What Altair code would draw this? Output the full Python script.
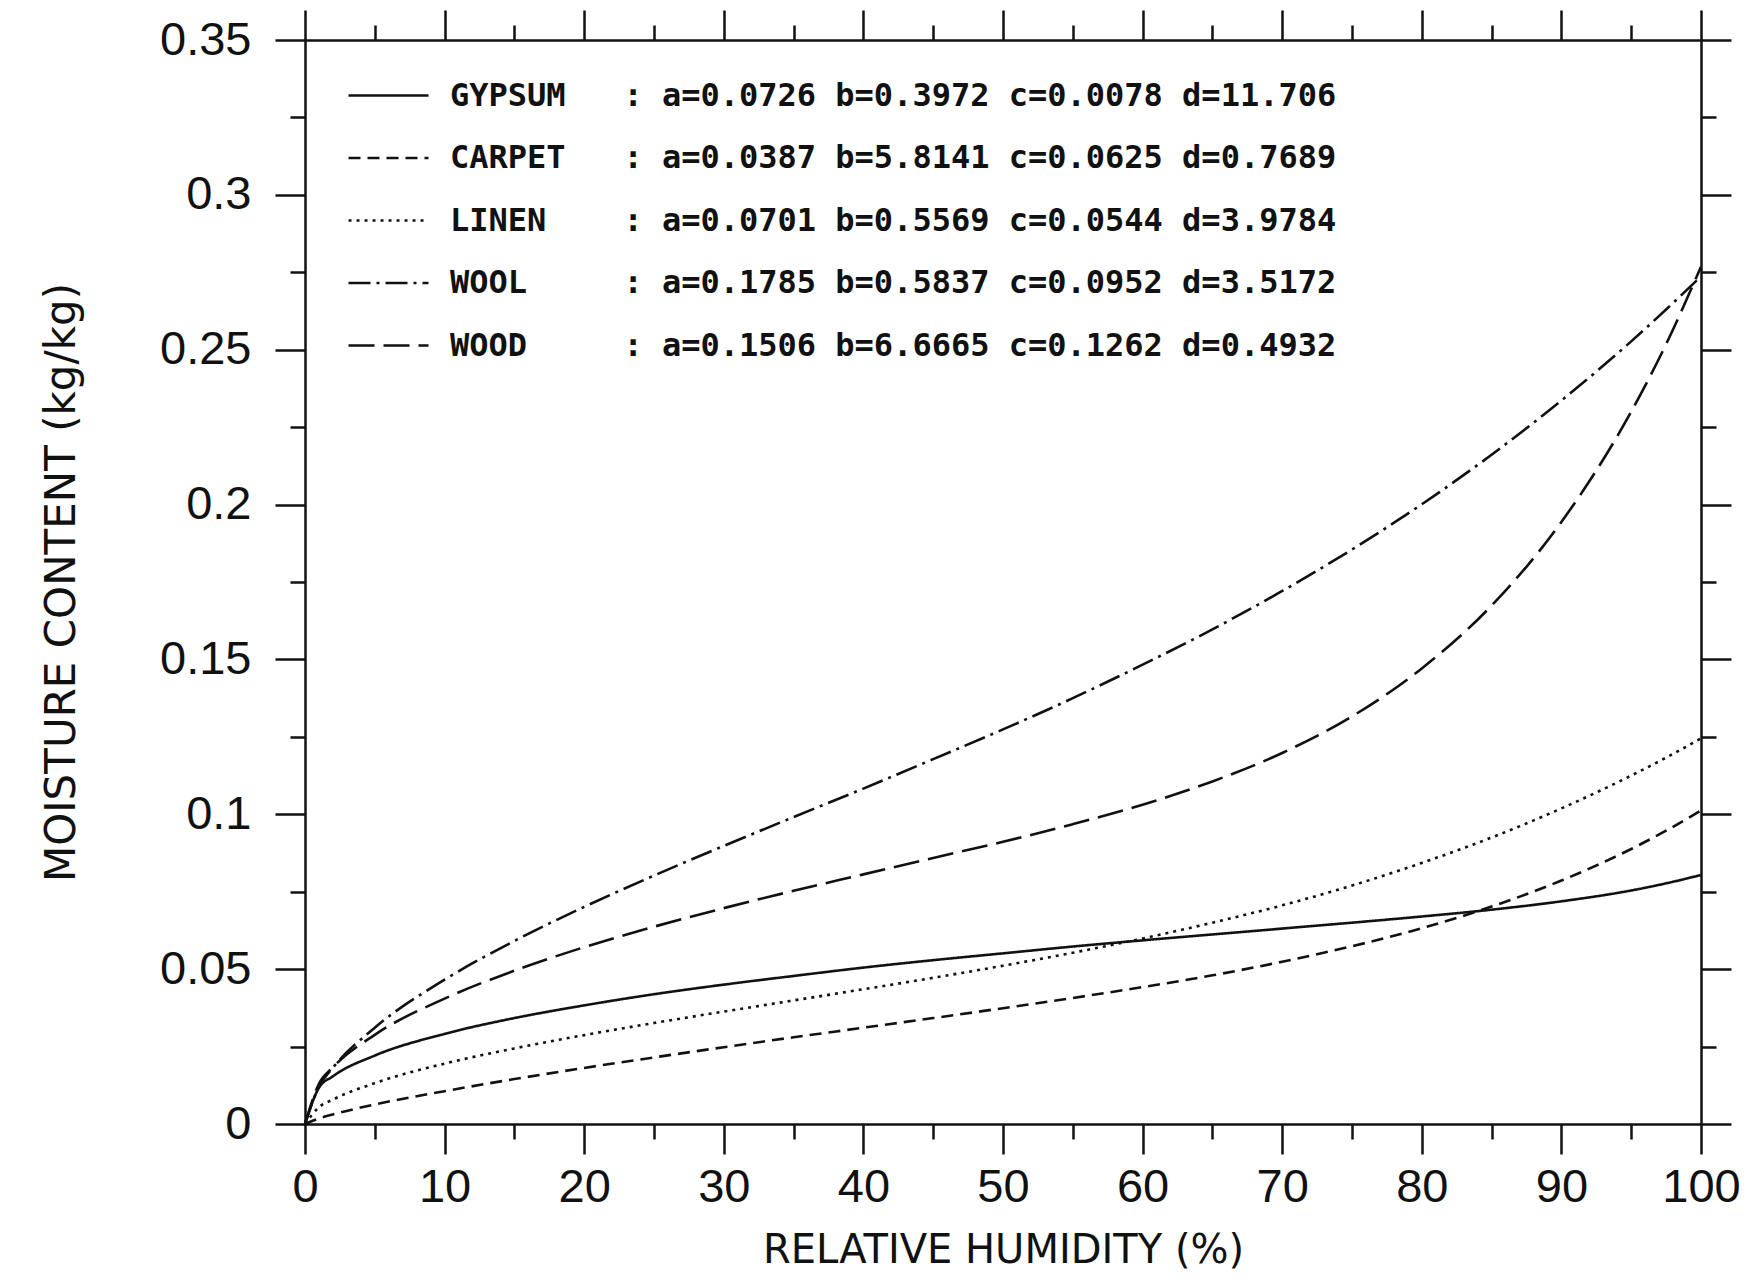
import altair as alt
import pandas as pd

# ---- data ----
rh = [0, 1, 2, 5, 10, 15, 20, 25, 30, 35, 40, 45, 50, 55, 60, 65, 70, 75, 80, 85, 90, 95, 97.5, 100]
gypsum = [0, 0.0117, 0.0154, 0.0221, 0.0291, 0.0342, 0.0383, 0.0419, 0.0450, 0.0478, 0.0505, 0.0529,
          0.0551, 0.0573, 0.0593, 0.0612, 0.0631, 0.0650, 0.0670, 0.0692, 0.0719, 0.0754, 0.0777, 0.0804]
carpet = [0, 0.0018, 0.0031, 0.0063, 0.0106, 0.0145, 0.0181, 0.0215, 0.0248, 0.0280, 0.0311, 0.0342,
          0.0374, 0.0407, 0.0442, 0.0480, 0.0524, 0.0574, 0.0632, 0.0702, 0.0786, 0.0888, 0.0947, 0.1012]
linen = [0, 0.0054, 0.0079, 0.0132, 0.0195, 0.0244, 0.0287, 0.0326, 0.0363, 0.0399, 0.0435, 0.0472,
         0.0511, 0.0553, 0.0599, 0.0650, 0.0706, 0.0770, 0.0843, 0.0925, 0.1019, 0.1125, 0.1183, 0.1245]
wool = [0, 0.0121, 0.0182, 0.0311, 0.0466, 0.0591, 0.0701, 0.0802, 0.0898, 0.0991, 0.1083, 0.1178,
        0.1274, 0.1375, 0.1483, 0.1597, 0.1721, 0.1855, 0.2001, 0.2161, 0.2336, 0.2527, 0.2630, 0.2737]
wood = [0, 0.0130, 0.0183, 0.0288, 0.0405, 0.0495, 0.0571, 0.0637, 0.0697, 0.0753, 0.0806, 0.0859,
        0.0911, 0.0968, 0.1031, 0.1106, 0.1198, 0.1316, 0.1471, 0.1674, 0.1944, 0.2300, 0.2518, 0.2768]

names = ["GYPSUM", "CARPET", "LINEN", "WOOL", "WOOD"]
param_a = ["0.0726", "0.0387", "0.0701", "0.1785", "0.1506"]
param_b = ["0.3972", "5.8141", "0.5569", "0.5837", "6.6665"]
param_c = ["0.0078", "0.0625", "0.0544", "0.0952", "0.1262"]
param_d = ["11.706", "0.7689", "3.9784", "3.5172", "0.4932"]

x_ticks = [0, 5, 10, 15, 20, 25, 30, 35, 40, 45, 50, 55, 60, 65, 70, 75, 80, 85, 90, 95, 100]
y_ticks = [0, 0.025, 0.05, 0.075, 0.1, 0.125, 0.15, 0.175, 0.2, 0.225, 0.25, 0.275, 0.3, 0.325, 0.35]

# ---- build table ----
NBSP = "\u00a0"
labels = []
for n, a, b, c, d in zip(names, param_a, param_b, param_c, param_d):
    labels.append(f"{n:<9}: a={a} b={b} c={c} d={d}".replace(" ", NBSP))

series = [gypsum, carpet, linen, wool, wood]
rows = []
for lab, ys in zip(labels, series):
    for xv, yv in zip(rh, ys):
        rows.append({"rh": xv, "mc": yv, "material": lab})
df = pd.DataFrame(rows)

dashes = [[1, 0], [12, 7], [3, 5], [22, 6, 3, 6], [26, 9]]

INK = "#111111"
major_x = "round(datum.value) % 10 === 0"
major_y = "round(datum.value * 40) % 2 === 0"
tick_x = {"condition": {"test": major_x, "value": 30}, "value": 15}
tick_y = {"condition": {"test": major_y, "value": 30}, "value": 15}

x_scale = alt.Scale(domain=[0, 100], nice=False, zero=False)
y_scale = alt.Scale(domain=[0, 0.35], nice=False, zero=False)

x_bottom = alt.Axis(orient="bottom", values=x_ticks, tickSize=tick_x, grid=False,
                    labelExpr=f"{major_x} ? format(datum.value, 'd') : ''",
                    labelFlush=False, labelOverlap=False, labelPadding=10,
                    title="RELATIVE HUMIDITY (%)", titlePadding=20, titleFontSize=40)
y_left = alt.Axis(orient="left", values=y_ticks, tickSize=tick_y, grid=False,
                  labelExpr=f"{major_y} ? format(datum.value, '.2~f') : ''",
                  labelFlush=False, labelOverlap=False, labelPadding=24,
                  title="MOISTURE CONTENT (kg/kg)", titlePadding=76, titleFontSize=42)
x_top = alt.Axis(orient="top", values=x_ticks, tickSize=tick_x, grid=False,
                 labels=False, title=None)
y_right = alt.Axis(orient="right", values=y_ticks, tickSize=tick_y, grid=False,
                   labels=False, title=None)

legend = alt.Legend(orient="none", legendX=42, legendY=14, title=None, direction="vertical",
                    symbolType="stroke", symbolSize=6400, symbolStrokeWidth=2.5,
                    symbolStrokeColor=INK, labelFont="DejaVu Sans Mono", labelFontWeight="bold",
                    labelFontSize=32, labelColor=INK, labelOffset=20, rowPadding=4.5,
                    labelLimit=2000, padding=0)

lines = alt.Chart(df).mark_line(strokeWidth=2.6, color=INK, interpolate="monotone").encode(
    x=alt.X("rh:Q", scale=x_scale, axis=x_bottom),
    y=alt.Y("mc:Q", scale=y_scale, axis=y_left),
    strokeDash=alt.StrokeDash("material:N", scale=alt.Scale(domain=labels, range=dashes),
                              legend=legend),
)

frame = alt.Chart(df).mark_line(opacity=0).encode(
    x=alt.X("rh:Q", scale=x_scale, axis=x_top),
    y=alt.Y("mc:Q", scale=y_scale, axis=y_right),
    detail="material:N",
)

chart = alt.layer(lines, frame).resolve_axis(x="independent", y="independent").properties(
    width=1396, height=1084,
    padding={"left": 32, "top": 0, "right": 0, "bottom": 0},
    background="white",
).configure_view(stroke=None).configure_axis(
    domainColor=INK, domainWidth=2.5, tickColor=INK, tickWidth=2.5,
    labelFont="Liberation Sans", labelFontSize=47, labelColor=INK,
    titleFont="DejaVu Sans", titleFontWeight="normal", titleColor=INK,
)

chart.save("out.html", embed_options={"renderer": "svg", "actions": False})
